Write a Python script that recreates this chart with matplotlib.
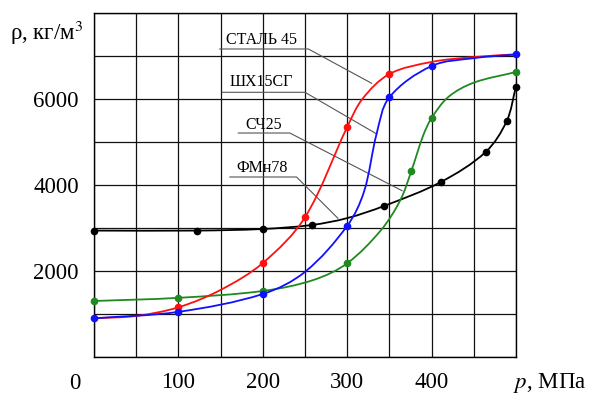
import numpy as np
import matplotlib.pyplot as plt
from matplotlib.path import Path
from matplotlib.patches import PathPatch

plt.rcParams['font.family'] = ['Liberation Serif', 'DejaVu Serif']
plt.rcParams['mathtext.fontset'] = 'stix'

# curves: pressure p (MPa) and density rho (kg/m3)
steel_p = [0, 50, 100, 150, 200, 250, 300, 318, 350, 400, 450, 500]
steel_rho = [900, 955, 1156, 1560, 2186, 3250, 5349, 6000, 6581, 6862, 6975, 7040]
steel_mp = [100, 200, 250, 300, 350]
steel_mrho = [1156, 2186, 3250, 5349, 6581]

shx_p = [0, 100, 200, 250, 300, 320, 335, 350, 400, 450, 500]
shx_rho = [900, 1050, 1465, 1980, 3050, 3850, 5203, 6040, 6767, 6950, 7035]
shx_mp = [0, 100, 200, 300, 350, 400, 500]
shx_mrho = [900, 1050, 1465, 3050, 6040, 6767, 7035]

sch_p = [0, 100, 200, 260, 300, 340, 363, 376, 390, 400, 420, 450, 500]
sch_rho = [1302, 1376, 1535, 1791, 2180, 2950, 3650, 4326, 5150, 5558, 6050, 6380, 6628]
sch_mp = [0, 100, 200, 300, 376, 400, 500]
sch_mrho = [1302, 1376, 1535, 2180, 4326, 5558, 6628]

fmn_p = [0, 122, 200, 258, 300, 344, 411, 464, 489, 500]
fmn_rho = [2940, 2940, 2977, 3070, 3230, 3515, 4070, 4767, 5488, 6290]
fmn_mp = [0, 122, 200, 258, 344, 411, 464, 489, 500]
fmn_mrho = [2940, 2940, 2977, 3070, 3515, 4070, 4767, 5488, 6290]

labels = ['СТАЛЬ 45', 'ШХ15СГ', 'СЧ25', 'ФМн78']
label_pos = [(199, 7372), (198, 6395), (201, 5395), (199, 4395)]
# leader lines: underline start, underline end, point on curve
leaders = [
    [(149, 7163), (254, 7163), (329, 6365)],
    [(152, 6156), (250, 6156), (335, 5186)],
    [(171, 5209), (232, 5209), (365, 3867)],
    [(161, 4186), (240, 4186), (289, 3226)],
]


def smooth_path(x, y, sx=422 / 500, sy=344 / 8000):
    # bezier path through the points (tangents taken in screen-like units)
    P = np.column_stack([np.asarray(x) * sx, np.asarray(y) * sy])
    n = len(P)
    T = np.zeros_like(P)
    for i in range(n):
        d = P[min(i + 1, n - 1)] - P[max(i - 1, 0)]
        T[i] = d / np.hypot(*d)
    verts, codes = [P[0]], [Path.MOVETO]
    for i in range(n - 1):
        L = np.hypot(*(P[i + 1] - P[i])) / 3
        verts += [P[i] + T[i] * L, P[i + 1] - T[i + 1] * L, P[i + 1]]
        codes += [Path.CURVE4] * 3
    V = np.array(verts) / [sx, sy]
    return Path(V, codes)


fig = plt.figure(figsize=(5.96, 3.96), dpi=100)
ax = fig.add_axes([94 / 596, 1 - 357 / 396, 422 / 596, 344 / 396])

ax.set_xlim(0, 500)
ax.set_ylim(0, 8000)
ax.set_xticks(np.arange(0, 501, 50))
ax.set_xticklabels(['' if v % 100 or v == 0 or v == 500 else str(v) for v in range(0, 501, 50)])
ax.set_yticks(np.arange(0, 8001, 1000))
ax.set_yticklabels([str(v) if v in (2000, 4000, 6000) else '' for v in range(0, 8001, 1000)])
ax.tick_params(length=0, labelsize=16.5, pad=11)
ax.grid(color='#111111', lw=0.9)
for s in ax.spines.values():
    s.set_linewidth(1.0)

for (x0, y0), (x1, y1), (x2, y2) in leaders:
    ax.plot([x0, x1, x2], [y0, y1, y2], color='#555555', lw=0.8, zorder=3)
for t, (x, y) in zip(labels, label_pos):
    ax.text(x, y, t, fontsize=11.5, ha='center', va='center', zorder=4)

series = [
    (fmn_p, fmn_rho, fmn_mp, fmn_mrho, 'black'),
    (sch_p, sch_rho, sch_mp, sch_mrho, '#1f8a1f'),
    (steel_p, steel_rho, steel_mp, steel_mrho, '#ff1010'),
    (shx_p, shx_rho, shx_mp, shx_mrho, '#1010ff'),
]
for p, rho, mp, mrho, c in series:
    ax.add_patch(PathPatch(smooth_path(p, rho), fill=False, edgecolor=c, lw=1.3, zorder=5, clip_on=False))
    ax.plot(mp, mrho, 'o', color=c, ms=4.5, zorder=6, clip_on=False)

ax.text(-0.045, -0.0756, '0', transform=ax.transAxes, fontsize=16.5, ha='center', va='center')
ax.text(0.993, -0.0756, '$p$, МПа', transform=ax.transAxes, fontsize=16.5, ha='left', va='center')
fig.text(10 / 596, 1 - 40 / 396, 'ρ, кг/м$^3$', fontsize=16.5, ha='left', va='baseline')

fig.savefig('out.png', dpi=100)
